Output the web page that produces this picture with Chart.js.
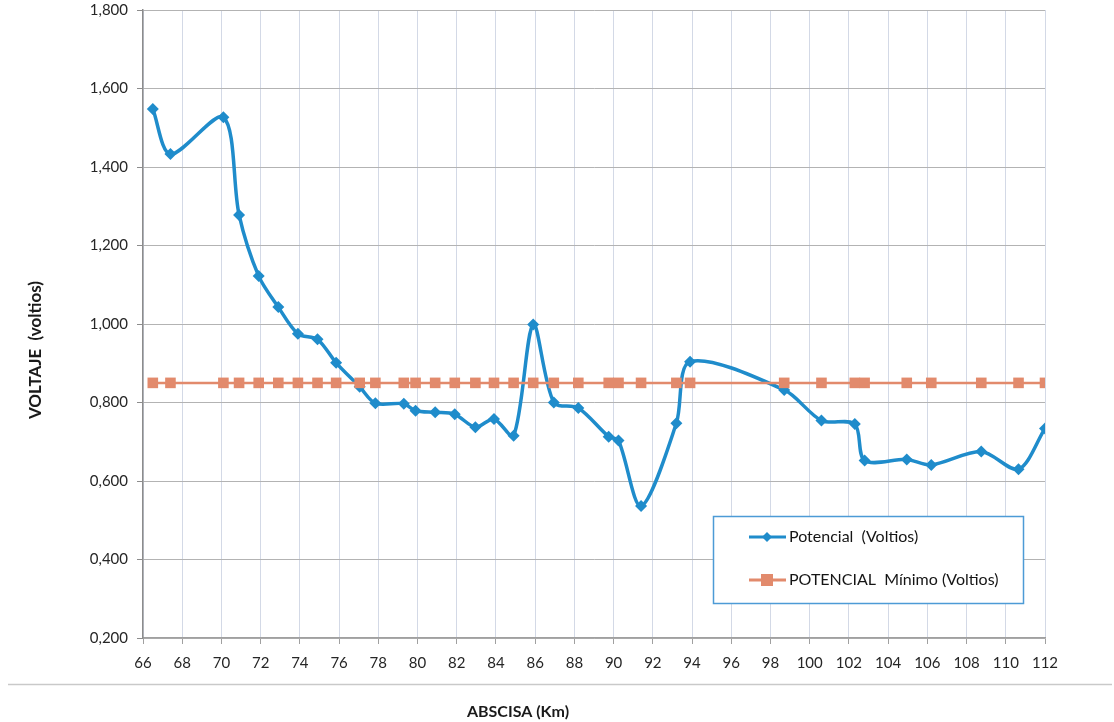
<!DOCTYPE html>
<html>
<head>
<meta charset="utf-8">
<script src="https://cdn.jsdelivr.net/npm/chart.js@4.4.1/dist/chart.umd.min.js"></script>
<style>
  html, body { margin: 0; padding: 0; background: #ffffff; overflow: hidden; }
  #wrap { width: 1114px; height: 722px; position: relative; overflow: hidden; }
  #c { position: absolute; left: 0; top: -8px; }
</style>
</head>
<body>
<div id="wrap"><canvas id="c" width="1114" height="730"></canvas></div>
<script>
// ---- data ----
const abscisa = [66.5, 67.4, 70.1, 70.9, 71.9, 72.9, 73.9, 74.9, 75.85, 77.05,
                 77.85, 79.3, 79.9, 80.9, 81.9, 82.95, 83.9, 84.9, 85.9, 86.95,
                 88.2, 89.75, 90.25, 91.4, 93.2, 93.9, 98.7, 100.6, 102.3, 102.8,
                 104.95, 106.2, 108.75, 110.65, 112.0];
const potencial = [1.548, 1.433, 1.527, 1.278, 1.122, 1.043, 0.975, 0.961, 0.901, 0.840,
                   0.798, 0.797, 0.779, 0.775, 0.770, 0.737, 0.758, 0.715, 0.999, 0.800,
                   0.786, 0.713, 0.703, 0.536, 0.747, 0.904, 0.832, 0.754, 0.745, 0.652,
                   0.655, 0.641, 0.675, 0.630, 0.734];
const potencialMinimo = [0.85, 0.85, 0.85, 0.85, 0.85, 0.85, 0.85, 0.85, 0.85, 0.85,
                         0.85, 0.85, 0.85, 0.85, 0.85, 0.85, 0.85, 0.85, 0.85, 0.85,
                         0.85, 0.85, 0.85, 0.85, 0.85, 0.85, 0.85, 0.85, 0.85, 0.85,
                         0.85, 0.85, 0.85, 0.85, 0.85];
const seriesNames = ['Potencial  (Voltios)', 'POTENCIAL  Mínimo (Voltios)'];
const xTitle = 'ABSCISA (Km)';
const yTitle = 'VOLTAJE  (voltios)';
const xMin = 66, xMax = 112, xStep = 2;
const yMin = 0.2, yMax = 1.8, yStep = 0.2;

const BLUE = '#1f8ccb';
const ORANGE = '#e28a6c';
const FONT = 'Lato, "Open Sans", "Liberation Sans", sans-serif';
const OFF = 8; // canvas is shifted up by this many pixels

const toPts = (xs, ys) => xs.map((x, i) => ({ x: x, y: ys[i] }));

const decorPlugin = {
  id: 'decor',
  afterDraw(chart) {
    const ctx = chart.ctx;
    ctx.save();
    ctx.translate(0, OFF);
    // outer chart border line (bottom)
    ctx.strokeStyle = '#c9c9c9';
    ctx.lineWidth = 1.5;
    ctx.beginPath();
    ctx.moveTo(8, 684.5);
    ctx.lineTo(1112, 684.5);
    ctx.stroke();

    // axis titles
    ctx.fillStyle = '#1a1a1a';
    ctx.font = 'bold 16px ' + FONT;
    ctx.textAlign = 'center';
    ctx.textBaseline = 'middle';
    ctx.fillText(xTitle, 518, 712);
    ctx.save();
    ctx.translate(36, 350);
    ctx.rotate(-Math.PI / 2);
    ctx.font = 'bold 17px ' + FONT;
    ctx.fillText(yTitle, 0, 0);
    ctx.restore();

    // legend box
    const bx = 713, by = 516, bw = 310, bh = 87;
    ctx.fillStyle = '#ffffff';
    ctx.fillRect(bx, by, bw, bh);
    ctx.strokeStyle = '#4d9bd6';
    ctx.lineWidth = 1.5;
    ctx.strokeRect(bx + 0.5, by + 0.5, bw, bh);

    const rows = [
      { y: 537, color: BLUE, lw: 3, marker: 'diamond' },
      { y: 580, color: ORANGE, lw: 3, marker: 'square' }
    ];
    rows.forEach((r, i) => {
      ctx.strokeStyle = r.color;
      ctx.lineWidth = r.lw;
      ctx.beginPath();
      ctx.moveTo(749, r.y);
      ctx.lineTo(786, r.y);
      ctx.stroke();
      ctx.fillStyle = r.color;
      if (r.marker === 'diamond') {
        ctx.beginPath();
        ctx.moveTo(767, r.y - 5);
        ctx.lineTo(772, r.y);
        ctx.lineTo(767, r.y + 5);
        ctx.lineTo(762, r.y);
        ctx.closePath();
        ctx.fill();
      } else {
        ctx.fillRect(761, r.y - 6, 12, 12);
      }
      ctx.fillStyle = '#151515';
      ctx.font = '16px ' + FONT;
      ctx.textAlign = 'left';
      ctx.textBaseline = 'middle';
      ctx.fillText(seriesNames[i], 789, r.y);
    });
    ctx.restore();
  }
};

new Chart(document.getElementById('c'), {
  type: 'line',
  data: {
    datasets: [
      {
        label: seriesNames[1],
        data: toPts(abscisa, potencialMinimo),
        borderColor: ORANGE,
        backgroundColor: ORANGE,
        borderWidth: 2.5,
        pointStyle: 'rect',
        pointRadius: 7.5,
        pointBorderWidth: 0,
        tension: 0,
        order: 0
      },
      {
        label: seriesNames[0],
        data: toPts(abscisa, potencial),
        borderColor: BLUE,
        backgroundColor: BLUE,
        borderWidth: 3.5,
        pointStyle: 'rectRot',
        pointRadius: 6,
        pointBorderWidth: 0,
        tension: 0.3,
        order: 1
      }
    ]
  },
  options: {
    responsive: false,
    animation: false,
    devicePixelRatio: 1,
    layout: { padding: { left: 0, right: 69, top: 2, bottom: 0 } },
    plugins: { legend: { display: false }, tooltip: { enabled: false } },
    scales: {
      x: {
        type: 'linear',
        min: xMin, max: xMax,
        afterFit(scale) { scale.height = 84; },
        ticks: {
          stepSize: xStep,
          color: '#262626',
          font: { family: FONT, size: 15 },
          padding: 10,
          maxRotation: 0,
          autoSkip: false
        },
        grid: { color: '#d3d9e6', lineWidth: 1, tickLength: 6, tickColor: '#a0a0a0' },
        border: { color: '#a0a0a0', width: 1.5 }
      },
      y: {
        type: 'linear',
        min: yMin, max: yMax,
        afterFit(scale) { scale.width = 143; },
        ticks: {
          stepSize: yStep,
          color: '#262626',
          font: { family: FONT, size: 15 },
          padding: 9,
          callback: (v) => Number(v).toFixed(3).replace('.', ',')
        },
        grid: { color: '#b3b3b3', lineWidth: 1, tickLength: 6, tickColor: '#8c8c8c' },
        border: { color: '#8c8c8c', width: 1.5 }
      }
    }
  },
  plugins: [decorPlugin]
});
</script>
</body>
</html>
